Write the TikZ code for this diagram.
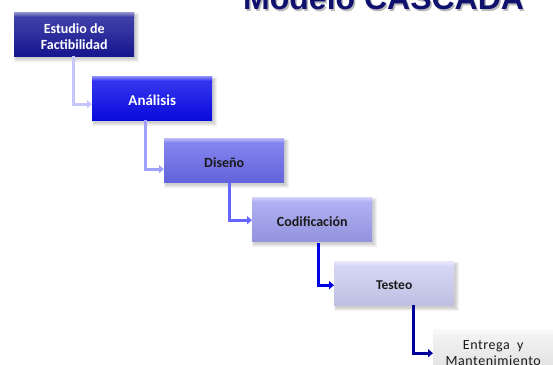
\documentclass[tikz,border=0pt]{standalone}
\usepackage{fontspec}
\setmainfont{Carlito}
\newfontfamily\headfont{Liberation Sans}
\newfontfamily\spacedfont[LetterSpace=4]{Carlito}
\usetikzlibrary{arrows.meta,calc}

% stage fills
\definecolor{stageA}{HTML}{18189A}
\definecolor{stageB}{HTML}{0A0AEE}
\definecolor{stageC}{HTML}{6B6BEE}
\definecolor{stageD}{HTML}{A0A0F2}
\definecolor{stageE}{HTML}{CFCFF5}
\definecolor{stageF}{HTML}{F3F3F3}
% connector colours
\definecolor{flowA}{HTML}{C6C6FA}
\definecolor{flowB}{HTML}{A0A0FF}
\definecolor{flowC}{HTML}{6565FF}
\definecolor{flowD}{HTML}{0000E6}
\definecolor{flowE}{HTML}{00009A}
\definecolor{headcol}{HTML}{10106E}
\definecolor{darktext}{HTML}{1A1A1A}

\tikzset{
  stage/.style={anchor=north west, minimum width=120pt, minimum height=44pt, inner sep=0pt},
  stagetext/.style={align=center, inner sep=0pt, font=\fontsize{14}{16}\selectfont\bfseries},
  flow/.style={line width=3pt, -{Triangle[length=5pt,width=8pt]}},
}

% name, top-left corner, fill colour, text colour, label
\newcommand\stagebox[5]{%
  \begin{scope}[shift={#2}]
    \foreach \g in {4,3,2,1}{
      \fill[black, opacity=0.05] (2-\g/2, 3-\g/2) rectangle (121+\g, 46+\g);
    }
    \node[stage, top color=#3!80!white, bottom color=#3!92!black] (#1) at (0,0) {};
    \shade[top color=#3!45!white, bottom color=#3!85!white] (0,0) rectangle (120,5);
  \end{scope}
  \node[stagetext, text=#4] (#1-label) at ([yshift=-2pt]#1.center) {#5};}

\begin{document}
\begin{tikzpicture}[x=1pt, y=-1pt]
  \useasboundingbox (0,0) rectangle (553,364);
  \clip (0,0) rectangle (553,364);

  % heading
  \node[anchor=base west, inner sep=0pt, text=black!45, opacity=0.6,
        font=\headfont\bfseries\fontsize{32}{32}\selectfont] (headshadow) at (244.5,11) {Modelo CASCADA};
  \node[anchor=base west, inner sep=0pt, text=headcol,
        font=\headfont\bfseries\fontsize{32}{32}\selectfont] (head) at (243,9.5) {Modelo CASCADA};

  % stages
  \stagebox{s1}{(14,12)}{stageA}{white}{Estudio de\\Factibilidad}
  \stagebox{s2}{(92,76)}{stageB}{white}{\fontsize{15}{17}\selectfont Análisis}
  \stagebox{s3}{(164,138)}{stageC}{darktext}{Diseño}
  \stagebox{s4}{(252,197)}{stageD}{darktext}{Codificación}
  \stagebox{s5}{(334,261)}{stageE}{darktext}{\fontsize{13.5}{16}\selectfont Testeo}
  \stagebox{s6}{(433,329)}{stageF}{darktext}{\spacedfont\mdseries Entrega\ \ y\\\spacedfont\mdseries Mantenimiento}

  % connectors
  \draw[flow, flowA] ($(s1.south west)+(59.5,0)$) |- ($(s2.west)+(0,6)$);
  \draw[flow, flowB] ($(s2.south west)+(53.5,0)$) |- ($(s3.west)+(0,9)$);
  \draw[flow, flowC] ($(s3.south west)+(65,0)$) |- ($(s4.west)+(0,1)$);
  \draw[flow, flowD] ($(s4.south west)+(66,2)$) |- ($(s5.west)+(0,2)$);
  \draw[flow, flowE] ($(s5.south west)+(79,0)$) |- ($(s6.west)+(0,2)$);
\end{tikzpicture}
\end{document}
